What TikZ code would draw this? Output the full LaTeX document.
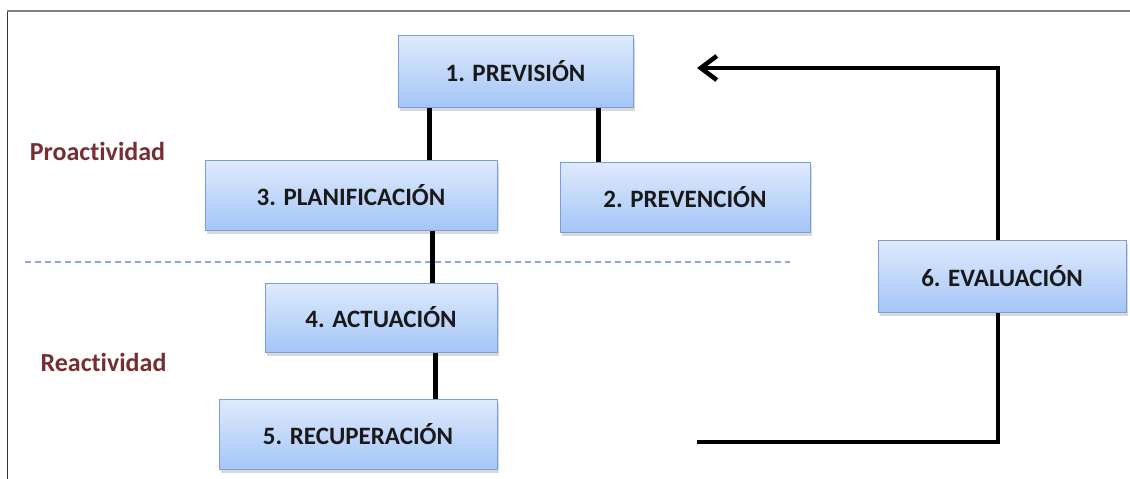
\documentclass[tikz,border=0pt]{standalone}
\usepackage{fontspec}
\setmainfont{Carlito}[Ligatures=NoCommon]
\usetikzlibrary{arrows.meta,shadows}
\definecolor{cajaA}{RGB}{223,234,252}
\definecolor{cajaB}{RGB}{164,198,247}
\definecolor{borde}{RGB}{122,158,214}
\definecolor{vino}{RGB}{118,46,50}
\definecolor{raya}{RGB}{140,168,212}
\begin{document}
\begin{tikzpicture}[x=1pt,y=-1pt,>={Straight Barb[length=16pt,width=24pt]}, line join=miter,
	caja/.style={draw=borde, line width=1pt, top color=cajaA, bottom color=cajaB, inner sep=0pt,
		font=\fontsize{25}{30}\selectfont\bfseries, text=black!90,
		drop shadow={shadow xshift=1.5pt, shadow yshift=-3.5pt, opacity=.3}},
	enlace/.style={line width=4.5pt},
	zona/.style={font=\fontsize{26}{30}\selectfont\bfseries, text=vino}]
	\useasboundingbox (0,0) rectangle (1130,479);
	% marco
	\draw[black!80, line width=1pt] (7,479) -- (7,11);
	\draw[black!50, line width=1.6pt] (7,11) -- (1130,11);
	% separacion
	\draw[raya, line width=1.2pt, dash pattern=on 6pt off 4pt] (25,262) -- (790,262);
	\node[zona] (pro) at (97.5,151) {Proactividad};
	\node[zona] (rea) at (103.5,362) {Reactividad};
	% cajas
	\node[caja, minimum width=235, minimum height=72] (prev) at (515.5,71) {1. PREVISIÓN};
	\node[caja, minimum width=292, minimum height=70] (plan) at (351,195) {3. PLANIFICACIÓN};
	\node[caja, minimum width=250, minimum height=70] (prevc) at (685,197) {2. PREVENCIÓN};
	\node[caja, minimum width=232, minimum height=69] (act) at (381,317.5) {4. ACTUACIÓN};
	\node[caja, minimum width=278, minimum height=70] (rec) at (358,434) {5. RECUPERACIÓN};
	\node[caja, minimum width=248, minimum height=72] (eval) at (1002,276) {6. EVALUACIÓN};
	\coordinate (vuelta) at (697,68);
	\coordinate (llega) at (697,442);
	% enlaces
	\draw[enlace] ([xshift=32pt]prev.south west) -- ([xshift=32pt]prev.south west |- plan.north);
	\draw[enlace] ([xshift=-35pt]prev.south east) -- ([xshift=-35pt]prev.south east |- prevc.north);
	\draw[enlace] ([xshift=-65pt]plan.south east) -- ([xshift=-65pt]plan.south east |- act.north);
	\draw[enlace] ([xshift=-62pt]act.south east) -- ([xshift=-62pt]act.south east |- rec.north);
	\draw[enlace, ->] ([xshift=-4pt]eval.north) |- (vuelta);
	\draw[enlace] ([xshift=-4pt]eval.south) |- (llega);
\end{tikzpicture}
\end{document}
